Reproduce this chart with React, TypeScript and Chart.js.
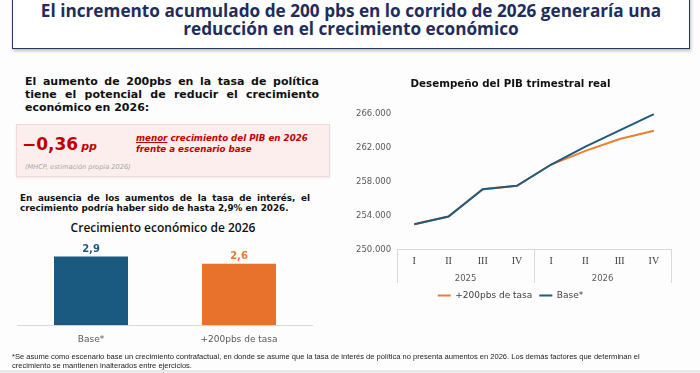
import React, { useEffect, useRef } from 'react';
import { Chart, registerables } from 'chart.js';
Chart.register(...registerables);

// Bar chart data
const barCategories = ['Base*', '+200pbs de tasa'];
const barValues = [2.9, 2.6];
const barValueLabels = ['2,9', '2,6'];
const barColors = ['#1a5a80', '#e8712b'];
const barLabelColors = ['#1f5a7c', '#e07a38'];

// Line chart data
const quarters = ['I', 'II', 'III', 'IV', 'I', 'II', 'III', 'IV'];
const years = ['2025', '2026'];
const baseSeries = [253000, 253900, 257100, 257500, 260000, 262100, 264000, 265900];
const rateSeries = [253000, 253900, 257100, 257500, 260000, 261600, 263000, 263950];
const yTicks = [250000, 254000, 258000, 262000, 266000];

const fmtThousands = (v: number) => String(Math.round(v)).replace(/\B(?=(\d{3})+(?!\d))/g, '.');

const valueLabelPlugin = {
  id: 'valueLabels',
  afterDatasetsDraw(chart: any) {
    const ctx = chart.ctx;
    const meta = chart.getDatasetMeta(0);
    ctx.save();
    ctx.font = 'bold 10px "DejaVu Sans"';
    ctx.textAlign = 'center';
    ctx.textBaseline = 'bottom';
    meta.data.forEach((bar: any, i: number) => {
      ctx.fillStyle = barLabelColors[i];
      ctx.fillText(barValueLabels[i], bar.x, bar.y - 2);
    });
    ctx.restore();
  },
};

// vertical separators between year groups, spanning both category axes
const yearSeparatorPlugin = {
  id: 'yearSeparators',
  afterDraw(chart: any) {
    const xs = chart.scales.x;
    const x2 = chart.scales.x2;
    const ctx = chart.ctx;
    const n = quarters.length;
    const per = n / years.length;
    ctx.save();
    ctx.strokeStyle = '#d9d9d9';
    ctx.lineWidth = 1;
    for (let k = 0; k <= years.length; k++) {
      const i = k * per;
      const px =
        i === 0 ? xs.left : i === n ? xs.right : (xs.getPixelForTick(i - 1) + xs.getPixelForTick(i)) / 2;
      const xx = Math.round(px) + 0.5;
      ctx.beginPath();
      ctx.moveTo(xx, xs.top);
      ctx.lineTo(xx, x2.bottom - 1);
      ctx.stroke();
    }
    ctx.restore();
  },
};

export default function App() {
  const barRef = useRef<HTMLCanvasElement>(null);
  const lineRef = useRef<HTMLCanvasElement>(null);

  useEffect(() => {
    const bar = new Chart(barRef.current as HTMLCanvasElement, {
      type: 'bar',
      data: {
        labels: barCategories,
        datasets: [
          {
            data: barValues,
            backgroundColor: barColors,
            barPercentage: 0.5,
            categoryPercentage: 1,
          },
        ],
      },
      options: {
        animation: false,
        responsive: false,
        maintainAspectRatio: false,
        layout: { padding: 0 },
        plugins: { legend: { display: false }, tooltip: { enabled: false } },
        scales: {
          x: {
            grid: { display: false, drawTicks: false },
            border: { display: true, color: '#d9d9d9', width: 1 },
            ticks: { color: '#595959', font: { family: 'DejaVu Sans', size: 9 }, padding: 9 },
          },
          y: { display: false, min: 0, max: 3.6 },
        },
      },
      plugins: [valueLabelPlugin],
    } as any);

    const line = new Chart(lineRef.current as HTMLCanvasElement, {
      type: 'line',
      data: {
        labels: quarters,
        datasets: [
          {
            label: 'Base*',
            data: baseSeries,
            borderColor: '#1f5b7e',
            backgroundColor: '#1f5b7e',
            borderWidth: 2,
            pointRadius: 0,
            tension: 0,
          },
          {
            label: '+200pbs de tasa',
            data: rateSeries,
            borderColor: '#ed7d31',
            backgroundColor: '#ed7d31',
            borderWidth: 2,
            pointRadius: 0,
            tension: 0,
          },
        ],
      },
      options: {
        animation: false,
        responsive: false,
        maintainAspectRatio: false,
        layout: { padding: { left: 20, right: 24, top: 0, bottom: 0 } },
        plugins: {
          title: {
            display: true,
            text: 'Desempeño del PIB trimestral real',
            color: '#111111',
            font: { family: 'DejaVu Sans', size: 10.3, weight: 'bold' },
            padding: { top: 13, bottom: 23 },
          },
          legend: {
            position: 'bottom',
            reverse: true,
            labels: {
              usePointStyle: true,
              pointStyle: 'line',
              pointStyleWidth: 13,
              boxWidth: 13,
              color: '#404040',
              font: { family: 'DejaVu Sans', size: 9 },
              padding: 7,
            },
          },
          tooltip: { enabled: false },
        },
        scales: {
          x: {
            offset: true,
            grid: { display: false, drawTicks: false },
            border: { display: true, color: '#d9d9d9' },
            ticks: {
              color: '#404040',
              font: { family: 'Liberation Serif', size: 10 },
              padding: 6,
              maxRotation: 0,
              autoSkip: false,
            },
          },
          x2: {
            type: 'category',
            labels: years,
            position: 'bottom',
            offset: true,
            grid: { display: false, drawTicks: false },
            border: { display: false },
            ticks: { color: '#595959', font: { family: 'DejaVu Sans', size: 8.5 }, padding: 0 },
          },
          y: {
            min: yTicks[0],
            max: yTicks[yTicks.length - 1],
            grid: { display: false, drawTicks: false },
            border: { display: false },
            ticks: {
              stepSize: yTicks[1] - yTicks[0],
              color: '#595959',
              font: { family: 'DejaVu Sans', size: 8.5 },
              padding: 6,
              callback: (v: any) => fmtThousands(Number(v)),
            },
          },
        },
      },
      plugins: [yearSeparatorPlugin],
    } as any);

    return () => {
      bar.destroy();
      line.destroy();
    };
  }, []);

  const abs = (s: any) => ({ position: 'absolute' as const, ...s });

  return (
    <div
      style={{
        position: 'absolute',
        left: 0,
        top: 0,
        width: 700,
        height: 373,
        overflow: 'hidden',
        background: '#fdfdfd',
        fontFamily: '"DejaVu Sans", sans-serif',
      }}
    >
      {/* Title box */}
      <div
        style={abs({
          left: 12,
          top: -3,
          width: 678,
          height: 52,
          boxSizing: 'border-box',
          border: '1.5px solid #203864',
          boxShadow: '1px 2px 3px rgba(0,0,0,0.25)',
          background: '#ffffff',
          color: '#1f2d5c',
          fontFamily: '"Open Sans", sans-serif',
          fontWeight: 700,
          fontSize: 17.2,
          lineHeight: '18px',
          textAlign: 'center',
          paddingTop: 4,
          whiteSpace: 'nowrap',
        })}
      >
        El incremento acumulado de 200 pbs en lo corrido de 2026 generaría una
        <br />
        reducción en el crecimiento económico
      </div>

      {/* Left heading */}
      <div
        style={abs({
          left: 25,
          top: 74.5,
          width: 294,
          fontWeight: 700,
          fontSize: 11,
          lineHeight: '13px',
          color: '#111111',
        })}
      >
        <div style={{ whiteSpace: 'nowrap', textAlign: 'justify', textAlignLast: 'justify' }}>
          El aumento de 200pbs en la tasa de política
        </div>
        <div style={{ whiteSpace: 'nowrap', textAlign: 'justify', textAlignLast: 'justify' }}>
          tiene el potencial de reducir el crecimiento
        </div>
        <div style={{ whiteSpace: 'nowrap' }}>económico en 2026:</div>
      </div>

      {/* Pink box */}
      <div
        style={abs({
          left: 16,
          top: 124,
          width: 314,
          height: 53,
          boxSizing: 'border-box',
          background: '#fbeeec',
          border: '1px solid #f2dada',
          boxShadow: '0 1px 2px rgba(0,0,0,0.08)',
        })}
      >
        <div
          style={abs({
            left: 5,
            top: 8,
            color: '#c00000',
            fontWeight: 700,
            fontSize: 17,
            lineHeight: '22px',
            whiteSpace: 'nowrap',
          })}
        >
          −0,36
          <span style={{ fontSize: 11, fontStyle: 'italic', marginLeft: 3 }}>pp</span>
        </div>
        <div
          style={abs({
            left: 119,
            top: 8,
            color: '#c00000',
            fontWeight: 700,
            fontStyle: 'italic',
            fontSize: 8.7,
            lineHeight: '11px',
            whiteSpace: 'nowrap',
          })}
        >
          <span style={{ textDecoration: 'underline' }}>menor</span> crecimiento del PIB en 2026
          <br />
          frente a escenario base
        </div>
        <div
          style={abs({
            left: 8,
            top: 38,
            color: '#a6a6a6',
            fontStyle: 'italic',
            fontSize: 6.6,
            lineHeight: '8px',
            whiteSpace: 'nowrap',
          })}
        >
          (MHCP, estimación propia 2026)
        </div>
      </div>

      {/* Second paragraph */}
      <div
        style={abs({
          left: 20,
          top: 192.5,
          width: 290,
          fontWeight: 700,
          fontSize: 8.8,
          lineHeight: '10.5px',
          color: '#111111',
        })}
      >
        <div style={{ whiteSpace: 'nowrap', textAlign: 'justify', textAlignLast: 'justify' }}>
          En ausencia de los aumentos de la tasa de interés, el
        </div>
        <div style={{ whiteSpace: 'nowrap' }}>crecimiento podría haber sido de hasta 2,9% en 2026.</div>
      </div>

      {/* Bar chart title */}
      <div
        style={abs({
          left: 13,
          width: 300,
          top: 220,
          textAlign: 'center',
          fontFamily: '"Open Sans", sans-serif',
          fontWeight: 600,
          fontSize: 12,
          lineHeight: '16px',
          color: '#111111',
        })}
      >
        Crecimiento económico de 2026
      </div>

      <canvas
        ref={barRef}
        width={296}
        height={114}
        style={abs({ left: 17, top: 240, width: 296, height: 114 })}
      />

      <canvas
        ref={lineRef}
        width={365}
        height={245}
        style={abs({ left: 330, top: 65, width: 365, height: 245 })}
      />

      {/* Footnote */}
      <div
        style={abs({
          left: 12,
          top: 353,
          fontFamily: '"Liberation Sans", sans-serif',
          fontSize: 7.55,
          lineHeight: '8.5px',
          color: '#222222',
          whiteSpace: 'nowrap',
        })}
      >
        *Se asume como escenario base un crecimiento contrafactual, en donde se asume que la tasa de interés de política no presenta aumentos en 2026. Los demás factores que determinan el
        <br />
        crecimiento se mantienen inalterados entre ejercicios.
      </div>

      <div style={abs({ left: 0, top: 370, width: 700, height: 3, background: '#e9e9e9' })} />
    </div>
  );
}
